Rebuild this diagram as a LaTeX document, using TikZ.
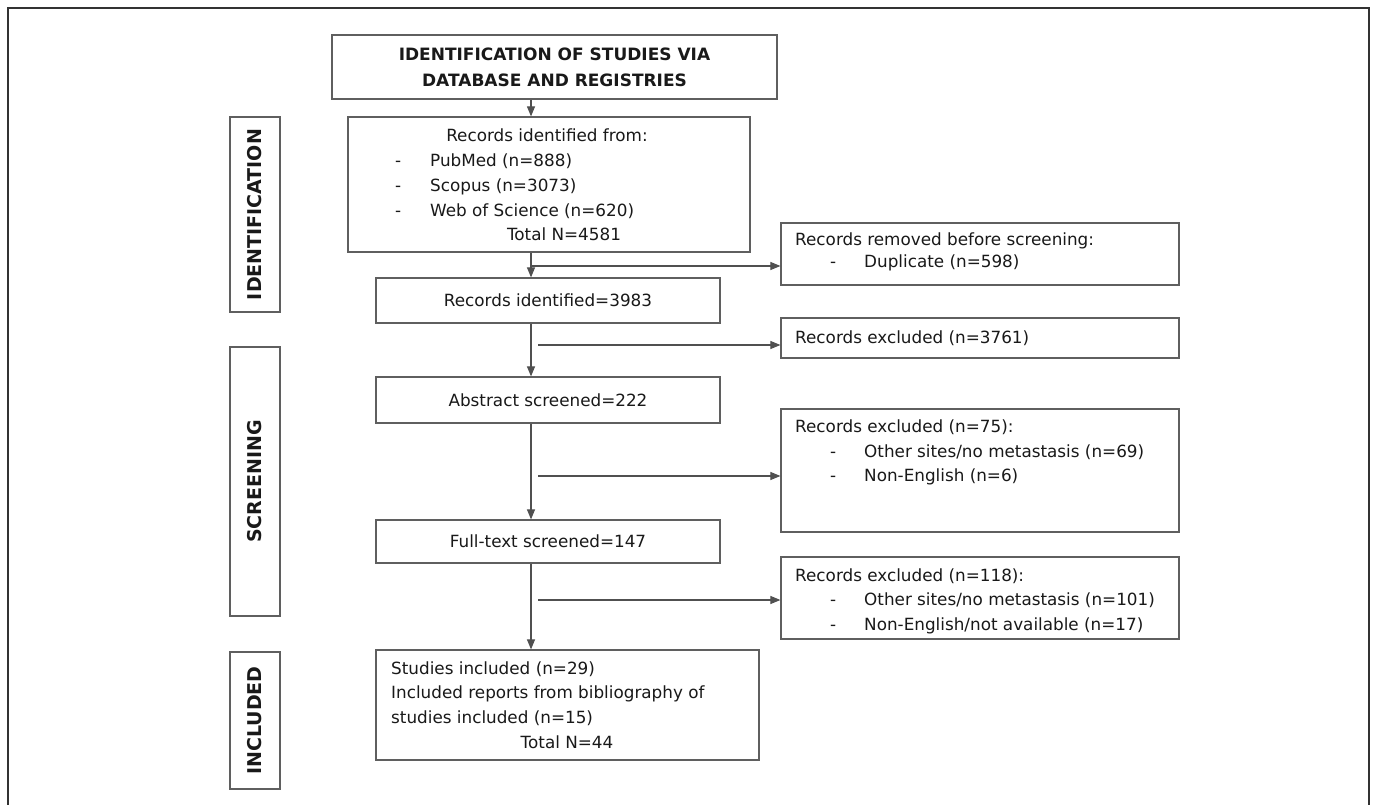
\documentclass[tikz,border=0pt]{standalone}
\usepackage{fontspec}
\setmainfont{DejaVu Sans}
\usetikzlibrary{arrows.meta}
\definecolor{boxline}{RGB}{95,95,95}
\definecolor{arrowline}{RGB}{80,80,80}
\definecolor{txtcol}{RGB}{25,25,25}
\definecolor{framecol}{RGB}{50,50,50}
\tikzset{
  box/.style={draw=boxline, line width=1.2pt, fill=white, inner sep=0pt, text=txtcol,
              font=\fontsize{16.8}{20}\selectfont},
  txt/.style={inner sep=0pt, font=\fontsize{16.8}{20}\selectfont, text=txtcol,
              text height=12pt, text depth=3.5pt},
  hdr/.style={font=\fontsize{17}{26}\selectfont\bfseries, align=center},
  sidebox/.style={draw=boxline, line width=1.2pt, inner sep=0pt, text=txtcol,
                  font=\fontsize{19}{20}\selectfont\bfseries, minimum height=50pt, rotate=90},
  arr/.style={draw=arrowline, line width=1.1pt, -{Triangle[length=10pt,width=8pt]}},
  frameline/.style={draw=framecol, line width=1.5pt}
}
\begin{document}
\begin{tikzpicture}[x=1pt,y=-1pt]
\useasboundingbox (0,0) rectangle (1373,805);
\draw[frameline] (8,805) -- (8,8) -- (1369,8) -- (1369,805);

% main column boxes
\node[box, hdr, minimum width=445pt, minimum height=64pt] (title) at (554.5,67)
  {IDENTIFICATION OF STUDIES VIA\\DATABASE AND REGISTRIES};
\node[box, minimum width=402pt, minimum height=135pt] (main) at (549,184.5) {};
\node[box, minimum width=344pt, minimum height=45pt] (ident) at (548,300.5) {Records identified=3983};
\node[box, minimum width=344pt, minimum height=46pt] (abstr) at (548,400) {Abstract screened=222};
\node[box, minimum width=344pt, minimum height=43pt] (full) at (548,541.5) {Full-text screened=147};
\node[box, minimum width=383pt, minimum height=110pt] (incl) at (567.5,705) {};

% right column boxes
\node[box, minimum width=398pt, minimum height=62pt] (removed) at (980,254) {};
\node[box, minimum width=398pt, minimum height=40pt] (exa) at (980,338) {};
\node[box, minimum width=398pt, minimum height=123pt] (exb) at (980,470.5) {};
\node[box, minimum width=398pt, minimum height=82pt] (exc) at (980,598) {};

% side labels
\node[sidebox, minimum width=195pt] (sideid) at (255,214.5) {IDENTIFICATION};
\node[sidebox, minimum width=269pt] (sidescr) at (255,481.5) {SCREENING};
\node[sidebox, minimum width=137pt] (sideinc) at (255,720.5) {INCLUDED};

% texts: main box
\node[txt] (m1) at (547,137) {Records identified from:};
\node[txt, anchor=west] (m2d) at (395,162) {-};
\node[txt, anchor=west] (m2) at (430,162) {PubMed (n=888)};
\node[txt, anchor=west] (m3d) at (395,187) {-};
\node[txt, anchor=west] (m3) at (430,187) {Scopus (n=3073)};
\node[txt, anchor=west] (m4d) at (395,212) {-};
\node[txt, anchor=west] (m4) at (430,212) {Web of Science (n=620)};
\node[txt] (m5) at (564,236) {Total N=4581};

% texts: removed
\node[txt, anchor=west] (r1) at (795,241) {Records removed before screening:};
\node[txt, anchor=west] (r2d) at (830,263) {-};
\node[txt, anchor=west] (r2) at (864,263) {Duplicate (n=598)};

% texts: excluded 3761
\node[txt, anchor=west] (a1) at (795,339) {Records excluded (n=3761)};

% texts: excluded 75
\node[txt, anchor=west] (b1) at (795,428) {Records excluded (n=75):};
\node[txt, anchor=west] (b2d) at (830,453) {-};
\node[txt, anchor=west] (b2) at (864,453) {Other sites/no metastasis (n=69)};
\node[txt, anchor=west] (b3d) at (830,477) {-};
\node[txt, anchor=west] (b3) at (864,477) {Non-English (n=6)};

% texts: excluded 118
\node[txt, anchor=west] (c1) at (795,577) {Records excluded (n=118):};
\node[txt, anchor=west] (c2d) at (830,601) {-};
\node[txt, anchor=west] (c2) at (864,601) {Other sites/no metastasis (n=101)};
\node[txt, anchor=west] (c3d) at (830,626) {-};
\node[txt, anchor=west] (c3) at (864,626) {Non-English/not available (n=17)};

% texts: included
\node[txt, anchor=west] (i1) at (391,670) {Studies included (n=29)};
\node[txt, anchor=west] (i2) at (391,694) {Included reports from bibliography of};
\node[txt, anchor=west] (i3) at (391,719) {studies included (n=15)};
\node[txt] (i4) at (567,744) {Total N=44};

% connectors
\coordinate (spine) at (531,0);
\draw[arr] (title.south -| spine) -- (main.north -| spine);
\draw[arr] (main.south -| spine) -- (ident.north -| spine);
\draw[arr] (ident.south -| spine) -- (abstr.north -| spine);
\draw[arr] (abstr.south -| spine) -- (full.north -| spine);
\draw[arr] (full.south -| spine) -- (incl.north -| spine);

\coordinate (br1) at (531,266);
\coordinate (br2) at (538,345);
\coordinate (br3) at (538,476);
\coordinate (br4) at (538,600);
\draw[arr] (br1) -- (br1 -| removed.west);
\draw[arr] (br2) -- (br2 -| exa.west);
\draw[arr] (br3) -- (br3 -| exb.west);
\draw[arr] (br4) -- (br4 -| exc.west);
\end{tikzpicture}
\end{document}
